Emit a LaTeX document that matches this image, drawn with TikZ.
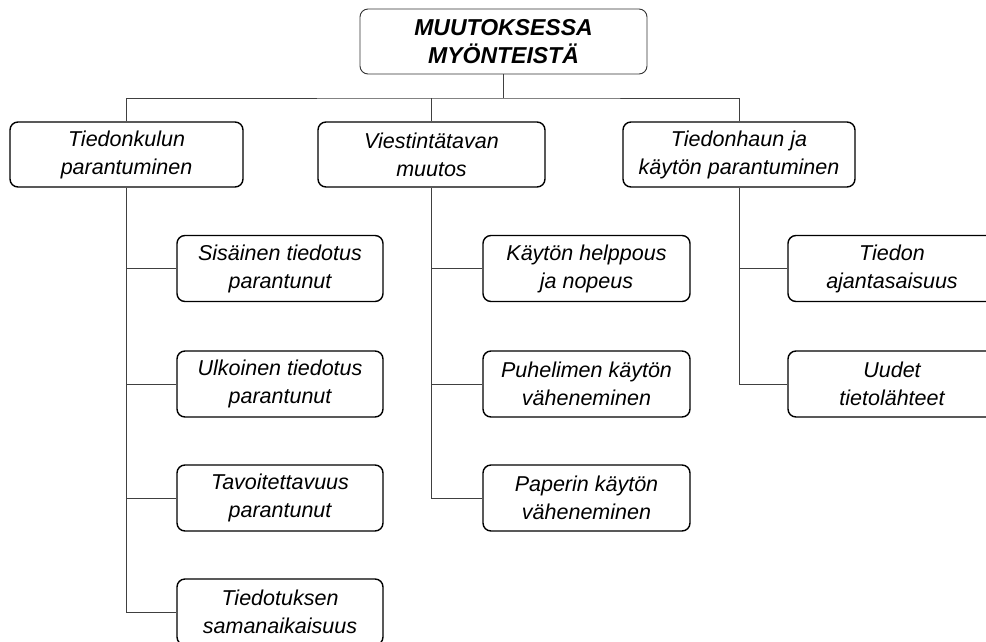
\documentclass[tikz,border=0pt]{standalone}
\usepackage{fontspec}
\setmainfont{Liberation Sans}
\begin{document}
\begin{tikzpicture}[x=1pt,y=-1pt,
  box/.style={draw, rounded corners=8pt, line width=1.4pt, align=center,
    inner sep=0pt, font=\itshape\fontsize{21.5}{28}\selectfont},
  rootbox/.style={box, line width=0.9pt, draw=black!80,
    font=\bfseries\itshape\fontsize{23}{27.5}\selectfont},
  link/.style={line width=0.7pt, draw=black!75}]
\useasboundingbox (0,0) rectangle (986,641);
\clip (0,0) rectangle (986,641);

% root
\node[rootbox, minimum width=287pt, minimum height=65pt] (root) at (503.5,41.5)
  {MUUTOKSESSA\\MYÖNTEISTÄ};

% second level
\node[box, minimum width=233pt, minimum height=65pt] (L) at (126.5,154.5)
  {Tiedonkulun\\parantuminen};
\node[box, minimum width=227pt, minimum height=65pt] (M) at (431.5,154.5)
  {Viestintätavan\\muutos};
\node[box, minimum width=232pt, minimum height=65pt] (R) at (739,154.5)
  {Tiedonhaun ja\\käytön parantuminen};

% children of the left branch
\node[box, minimum width=206pt, minimum height=66pt] (L1) at (280,268.5)
  {Sisäinen tiedotus\\parantunut};
\node[box, minimum width=206pt, minimum height=66pt] (L2) at (280,384)
  {Ulkoinen tiedotus\\parantunut};
\node[box, minimum width=206pt, minimum height=66pt] (L3) at (280,498)
  {Tavoitettavuus\\parantunut};
\node[box, minimum width=206pt, minimum height=66pt] (L4) at (280,612)
  {Tiedotuksen\\samanaikaisuus};

% children of the middle branch
\node[box, minimum width=207pt, minimum height=66pt] (M1) at (586.5,268.5)
  {Käytön helppous\\ja nopeus};
\node[box, minimum width=207pt, minimum height=66pt] (M2) at (586.5,384)
  {Puhelimen käytön\\väheneminen};
\node[box, minimum width=207pt, minimum height=66pt] (M3) at (586.5,498)
  {Paperin käytön\\väheneminen};

% children of the right branch
\node[box, minimum width=208pt, minimum height=66pt] (R1) at (892,268.5)
  {Tiedon\\ajantasaisuus};
\node[box, minimum width=208pt, minimum height=66pt] (R2) at (892,384)
  {Uudet\\tietolähteet};

% connectors from the root
\coordinate (bus) at (503.5,98);
\draw[link] (root.south) -- (bus);
\draw[link] (L.north) |- (bus) -| (R.north);
\draw[link] (M.north) -- (M.north |- bus);

% branch connectors
\draw[link] (L.south) -- (L.south |- L4.west) -- (L4.west);
\foreach \c in {L1,L2,L3} \draw[link] (L.south |- \c.west) -- (\c.west);
\draw[link] (M.south) -- (M.south |- M3.west) -- (M3.west);
\foreach \c in {M1,M2} \draw[link] (M.south |- \c.west) -- (\c.west);
\draw[link] (R.south) -- (R.south |- R2.west) -- (R2.west);
\draw[link] (R.south |- R1.west) -- (R1.west);
\end{tikzpicture}
\end{document}
